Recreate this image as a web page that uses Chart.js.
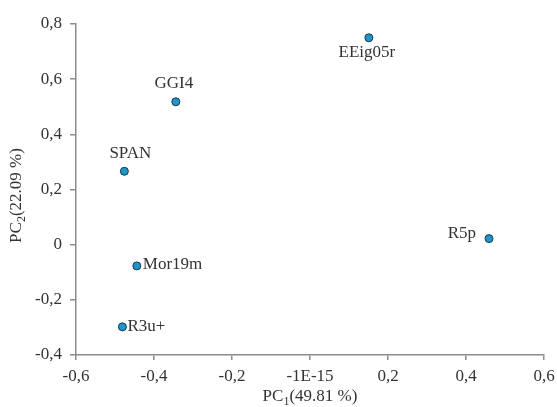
<!DOCTYPE html>
<html>
<head>
<meta charset="utf-8">
<script src="https://cdn.jsdelivr.net/npm/chart.js@4/dist/chart.umd.min.js"></script>
<style>
  html, body { margin: 0; padding: 0; background: #fff; }
  #wrap { width: 557px; height: 407px; }
</style>
</head>
<body>
<div id="wrap"><canvas id="chart" width="557" height="407"></canvas></div>
<script>
// Sample names and PCA scores
const samples = ['EEig05r', 'GGI4', 'SPAN', 'R5p', 'Mor19m', 'R3u+'];
const pc1 = [0.151, -0.344, -0.476, 0.459, -0.444, -0.481];
const pc2 = [0.750, 0.518, 0.266, 0.022, -0.077, -0.298];

// Where each name sits relative to its point
const labelPlace = {
    'EEig05r': { side: 'below', dx: -2, dy: 15 },
    'GGI4': { side: 'above', dx: -2, dy: -18 },
    'SPAN': { side: 'above', dx: 6, dy: -18 },
    'R5p': { side: 'left', dx: -13, dy: -5 },
    'Mor19m': { side: 'right', dx: 6, dy: -1 },
    'R3u+': { side: 'right', dx: 5, dy: 0 },
};

const FONT = '"Liberation Serif", "Times New Roman", serif';
const SIZE = 17;
const TEXT = '#333333';
const AXIS = '#8c8c8c';

function fmt(v, zeroText) {
    const r = Math.round(v * 10) / 10;
    if (r === 0) return zeroText;
    return String(r).replace('.', ',');
}

// Draw a string with a subscript piece: base + sub + rest
function drawSubText(ctx, base, sub, rest, x, y) {
    const big = SIZE + 'px ' + FONT;
    const small = '12px ' + FONT;
    ctx.font = big;
    const wBase = ctx.measureText(base).width;
    const wRest = ctx.measureText(rest).width;
    ctx.font = small;
    const wSub = ctx.measureText(sub).width;
    let cx = x - (wBase + wSub + wRest) / 2;
    ctx.textAlign = 'left';
    ctx.textBaseline = 'middle';
    ctx.font = big;
    ctx.fillText(base, cx, y);
    cx += wBase;
    ctx.font = small;
    ctx.fillText(sub, cx, y + 5);
    cx += wSub;
    ctx.font = big;
    ctx.fillText(rest, cx, y);
}

const annotate = {
    id: 'annotate',
    afterDatasetsDraw(chart) {
        const ctx = chart.ctx;
        const meta = chart.getDatasetMeta(0);
        ctx.save();
        ctx.fillStyle = TEXT;
        ctx.font = SIZE + 'px ' + FONT;
        meta.data.forEach((pt, i) => {
            const name = samples[i];
            const p = labelPlace[name];
            ctx.textBaseline = 'middle';
            if (p.side === 'left') ctx.textAlign = 'right';
            else if (p.side === 'right') ctx.textAlign = 'left';
            else ctx.textAlign = 'center';
            ctx.fillText(name, pt.x + p.dx, pt.y + p.dy);
        });
        ctx.restore();
    },
    afterDraw(chart) {
        const ctx = chart.ctx;
        const area = chart.chartArea;
        ctx.save();
        ctx.fillStyle = TEXT;
        drawSubText(ctx, 'PC', '1', '(49.81 %)', (area.left + area.right) / 2, 397);
        ctx.translate(17, (area.top + area.bottom) / 2 + 6);
        ctx.rotate(-Math.PI / 2);
        drawSubText(ctx, 'PC', '2', '(22.09 %)', 0, 0);
        ctx.restore();
    }
};

const ctx = document.getElementById('chart').getContext('2d');
const chart = new Chart(ctx, {
    type: 'scatter',
    data: {
        datasets: [{
            data: samples.map((s, i) => ({ x: pc1[i], y: pc2[i] })),
            backgroundColor: '#1f95c8',
            borderColor: '#16384d',
            borderWidth: 1,
            pointRadius: 4,
        }]
    },
    options: {
        responsive: false,
        animation: false,
        layout: { padding: { top: 24, right: 13, left: 0, bottom: 0 } },
        plugins: { legend: { display: false }, tooltip: { enabled: false } },
        scales: {
            x: {
                type: 'linear',
                min: -0.6,
                max: 0.6,
                ticks: {
                    stepSize: 0.2,
                    color: TEXT,
                    font: { family: FONT, size: SIZE },
                    padding: 6,
                    callback: v => fmt(v, '-1E-15'),
                },
                grid: { drawOnChartArea: false, tickLength: 5, color: AXIS, lineWidth: 1.5 },
                border: { display: true, color: AXIS, width: 1.5 },
                afterFit: s => { s.height = 52; s.paddingRight = 0; s.paddingLeft = 0; },
            },
            y: {
                type: 'linear',
                min: -0.4,
                max: 0.8,
                ticks: {
                    stepSize: 0.2,
                    color: TEXT,
                    font: { family: FONT, size: SIZE },
                    padding: 8,
                    callback: v => fmt(v, '0'),
                },
                grid: { drawOnChartArea: false, tickLength: 6, color: AXIS, lineWidth: 1.5 },
                border: { display: true, color: AXIS, width: 1.5 },
                afterFit: s => { s.width = 76; s.paddingTop = 0; s.paddingBottom = 0; },
            }
        }
    },
    plugins: [annotate]
});
</script>
</body>
</html>
